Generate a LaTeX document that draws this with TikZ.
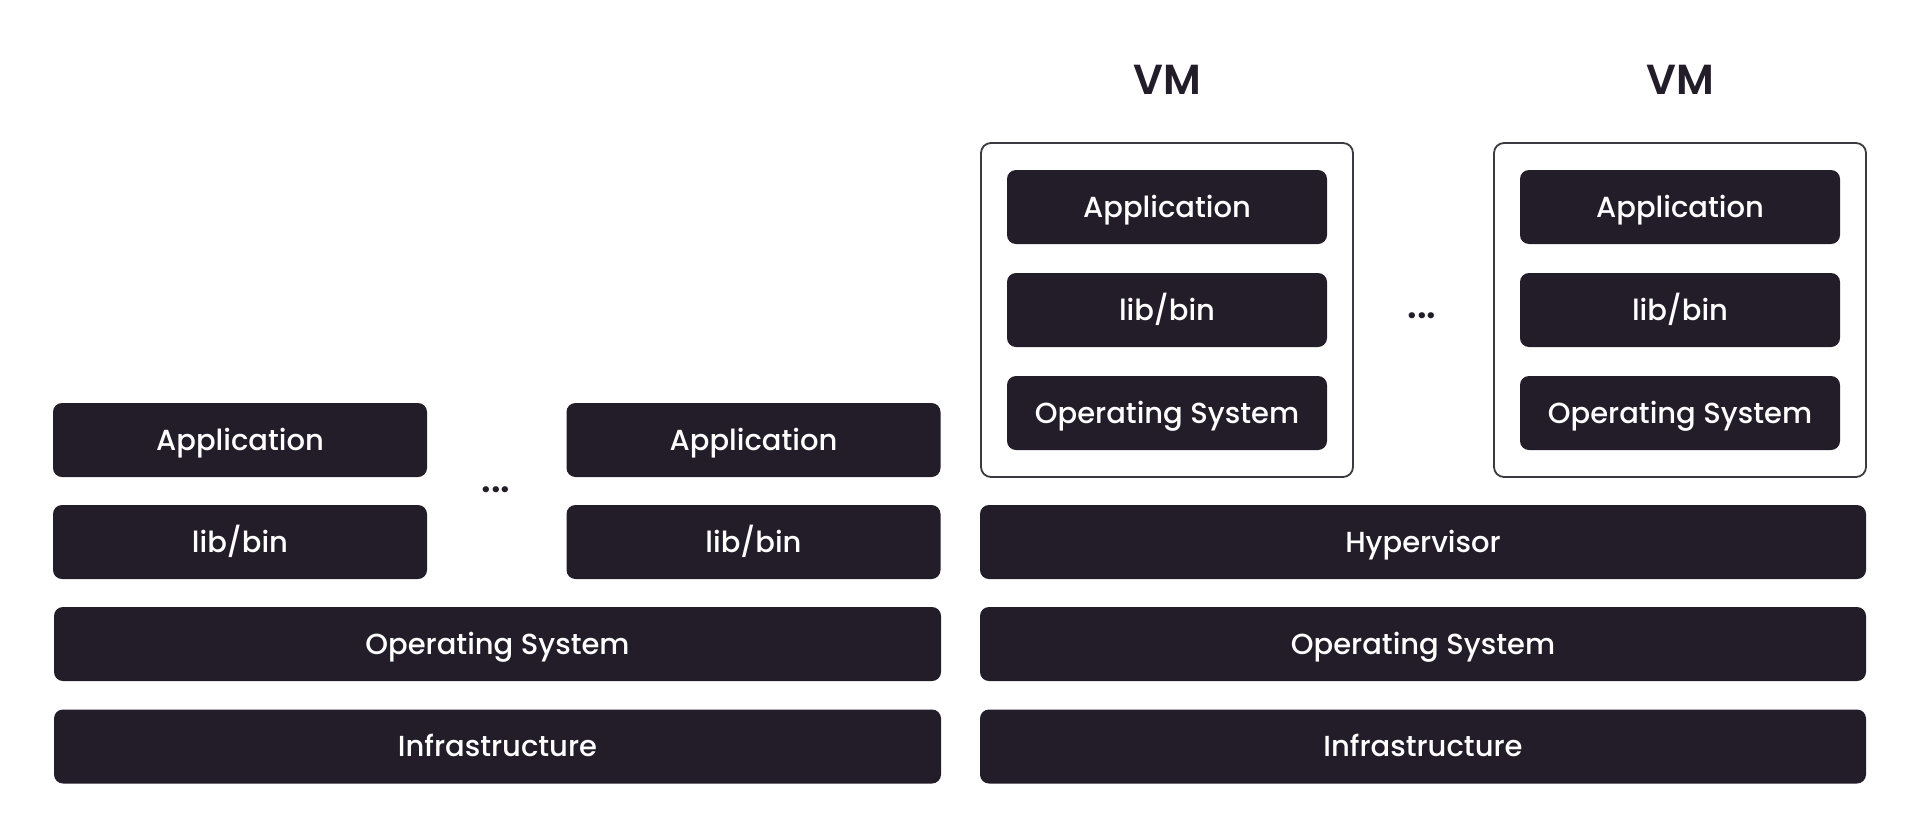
\documentclass[tikz,border=0pt]{standalone}
\usepackage{fontspec}
\setmainfont{Poppins}[UprightFont=* Medium, BoldFont=* SemiBold]
\definecolor{boxdark}{HTML}{231D2A}
\definecolor{edge}{HTML}{3A3A40}
\tikzset{
  layer/.style={fill=boxdark, draw=none, rounded corners=9pt, text=white,
    font=\fontsize{29}{34}\selectfont, inner sep=0pt, minimum height=74pt,
    text height=21pt, text depth=1pt},
  vmframe/.style={draw=edge, line width=1.8pt, rounded corners=10pt, fill=white,
    minimum width=372pt, minimum height=334pt, inner sep=0pt},
  vmlabel/.style={text=boxdark, font=\bfseries\fontsize{42}{48}\selectfont, inner sep=0pt},
  dots/.style={text=boxdark, font=\bfseries\fontsize{37}{40}\selectfont, inner sep=0pt, anchor=base}
}
\begin{document}
\begin{tikzpicture}[x=1pt,y=-1pt]
\useasboundingbox (0,0) rectangle (1920,836);
% left stack
\node[layer, minimum width=374pt] (lapp1) at (240,440) {Application};
\node[layer, minimum width=374pt] (llib1) at (240,542) {lib/bin};
\node[layer, minimum width=374pt] (lapp2) at (753.5,440) {Application};
\node[layer, minimum width=374pt] (llib2) at (753.5,542) {lib/bin};
\node[dots] (ldots) at (496,492) {...};
\node[layer, minimum width=887pt] (los) at (497.5,644) {Operating System};
\node[layer, minimum width=887pt] (linf) at (497.5,746.5) {Infrastructure};
% right stack
\node[vmframe] (vm1) at (1167,310) {};
\node[vmframe] (vm2) at (1680,310) {};
\node[vmlabel] (vm1l) at (1167,80) {VM};
\node[vmlabel] (vm2l) at (1680,80) {VM};
\node[layer, minimum width=320pt] (v1app) at (1167,207) {Application};
\node[layer, minimum width=320pt] (v1lib) at (1167,310) {lib/bin};
\node[layer, minimum width=320pt] (v1os) at (1167,413) {Operating System};
\node[layer, minimum width=320pt] (v2app) at (1680,207) {Application};
\node[layer, minimum width=320pt] (v2lib) at (1680,310) {lib/bin};
\node[layer, minimum width=320pt] (v2os) at (1680,413) {Operating System};
\node[dots] (rdots) at (1422,318) {...};
\node[layer, minimum width=886pt] (hyp) at (1423,542) {Hypervisor};
\node[layer, minimum width=886pt] (ros) at (1423,644) {Operating System};
\node[layer, minimum width=886pt] (rinf) at (1423,746.5) {Infrastructure};
\end{tikzpicture}
\end{document}
